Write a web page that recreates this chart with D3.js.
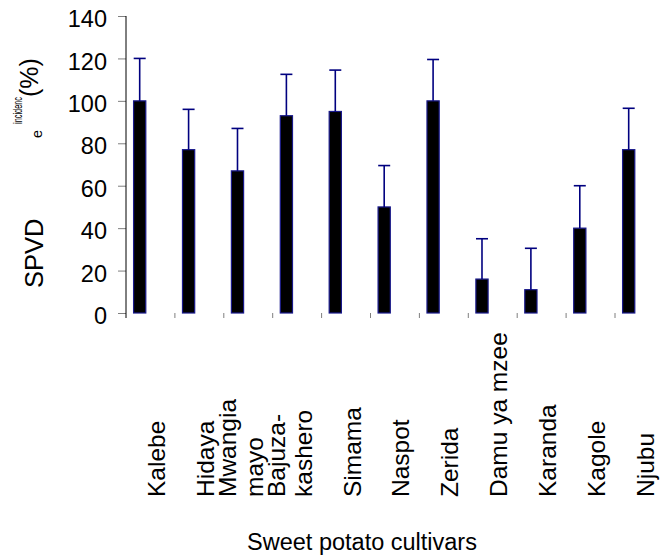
<!DOCTYPE html>
<html>
<head>
<meta charset="utf-8">
<script src="https://cdn.jsdelivr.net/npm/d3@7"></script>
<style>
  body { margin: 0; background: #fff; }
  svg text { font-family: "Liberation Sans", Arial, sans-serif; fill: #000; }
</style>
</head>
<body>
<script>
// cultivars and SPVD incidence (%)
var cultivars = ["Kalebe", "Hidaya", "Mwangia mayo", "Bajuza-kashero", "Simama", "Naspot",
                 "Zerida", "Damu ya mzee", "Karanda", "Kagole", "Njubu"];
var labelLines = [["Kalebe"], ["Hidaya"], ["Mwangia", "mayo"], ["Bajuza-", "kashero"], ["Simama"], ["Naspot"],
                  ["Zerida"], ["Damu ya mzee"], ["Karanda"], ["Kagole"], ["Njubu"]];
var incidence = [100, 77, 67, 93, 95, 50, 100, 16, 11, 40, 77];
var errors = [20, 19, 20, 19.5, 19.5, 19.5, 19.5, 19, 19.5, 20, 19.5];
var yTicks = [0, 20, 40, 60, 80, 100, 120, 140];

function init(){
	var w = 661;
	var h = 556;
	var axisX = 126;
	var bandW = 48.9;

	var svg = d3.select("body")
		.append("svg")
		.attr("width", w)
		.attr("height", h);

	var xScale = d3.scaleBand()
		.domain(cultivars)
		.range([axisX, axisX + bandW * cultivars.length])
		.padding(0);

	var yScale = d3.scaleLinear()
		.domain([0, 140])
		.range([313, 16]);

	var bw = xScale.bandwidth();
	var barOff = bw * 0.155;
	var barW = bw * 0.25;

	// y axis
	var yAxis = d3.axisLeft(yScale)
		.tickValues(yTicks)
		.tickSize(8)
		.tickSizeOuter(0)
		.tickPadding(11);

	var gy = svg.append("g")
		.attr("transform", "translate(" + axisX + ",0)")
		.call(yAxis);
	gy.select(".domain").remove();
	gy.selectAll(".tick line").attr("stroke", "#7f7f7f");
	gy.selectAll(".tick text")
		.attr("dy", "0.45em")
		.style("font-size", "23.5px")
		.style("font-family", "'Liberation Sans', Arial, sans-serif");

	svg.append("line")
		.attr("x1", axisX).attr("x2", axisX)
		.attr("y1", yScale(140)).attr("y2", yScale(0) + 5)
		.attr("stroke", "#000")
		.attr("stroke-width", 1);

	// x ticks at the band boundaries
	svg.selectAll(".xtick")
		.data(cultivars.slice(1))
		.enter()
		.append("line")
		.attr("class", "xtick")
		.attr("x1", function(d){ return xScale(d); })
		.attr("x2", function(d){ return xScale(d); })
		.attr("y1", yScale(0))
		.attr("y2", yScale(0) + 5)
		.attr("stroke", "#7f7f7f");

	// bars
	svg.selectAll(".bar")
		.data(cultivars)
		.enter()
		.append("rect")
		.attr("class", "bar")
		.attr("x", function(d){ return xScale(d) + barOff; })
		.attr("y", function(d, i){ return yScale(incidence[i]); })
		.attr("width", barW)
		.attr("height", function(d, i){ return yScale(0) - yScale(incidence[i]); })
		.attr("fill", "#000")
		.attr("stroke", "#1a1a8c")
		.attr("stroke-width", 1.2);

	// error bars (upper only)
	var eb = svg.selectAll(".err")
		.data(cultivars)
		.enter()
		.append("g")
		.attr("class", "err")
		.attr("stroke", "#00007f")
		.attr("stroke-width", 1.6);

	eb.append("line")
		.attr("x1", function(d){ return xScale(d) + barOff + barW / 2; })
		.attr("x2", function(d){ return xScale(d) + barOff + barW / 2; })
		.attr("y1", function(d, i){ return yScale(incidence[i]); })
		.attr("y2", function(d, i){ return yScale(incidence[i] + errors[i]); });

	eb.append("line")
		.attr("x1", function(d){ return xScale(d) + barOff + barW / 2 - 6; })
		.attr("x2", function(d){ return xScale(d) + barOff + barW / 2 + 6; })
		.attr("y1", function(d, i){ return yScale(incidence[i] + errors[i]); })
		.attr("y2", function(d, i){ return yScale(incidence[i] + errors[i]); });

	// rotated category labels
	var lineGap = 27;
	svg.selectAll(".xlabel")
		.data(cultivars)
		.enter()
		.append("text")
		.attr("class", "xlabel")
		.attr("transform", function(d){
			var cx = xScale(d) + bw / 2 + 6;
			return "translate(" + cx + ",497) rotate(-90)";
		})
		.style("font-size", "24.5px")
		.attr("text-anchor", "start")
		.each(function(d, i){
			var lines = labelLines[i];
			var t = d3.select(this);
			lines.forEach(function(s, j){
				t.append("tspan")
					.attr("x", 0)
					.attr("dy", j === 0 ? (8.5 - (lines.length - 1) * lineGap) : lineGap)
					.text(s);
			});
		});

	// y title
	var yt = svg.append("g").attr("transform", "rotate(-90)");
	yt.append("text")
		.attr("x", -288).attr("y", 43)
		.style("font-size", "25.5px")
		.text("SPVD");
	yt.append("text")
		.attr("x", -124).attr("y", 22)
		.style("font-size", "13px")
		.attr("textLength", 27)
		.attr("lengthAdjust", "spacingAndGlyphs")
		.text("incidenc");
	yt.append("text")
		.attr("x", -138).attr("y", 42)
		.style("font-size", "15px")
		.attr("textLength", 8)
		.attr("lengthAdjust", "spacingAndGlyphs")
		.text("e");
	yt.append("text")
		.attr("x", -97).attr("y", 38)
		.style("font-size", "25px")
		.text("(%)");

	// x title
	svg.append("text")
		.attr("x", 362)
		.attr("y", 550)
		.attr("text-anchor", "middle")
		.style("font-size", "23.5px")
		.text("Sweet potato cultivars");
}

window.onload = init;
</script>
</body>
</html>
